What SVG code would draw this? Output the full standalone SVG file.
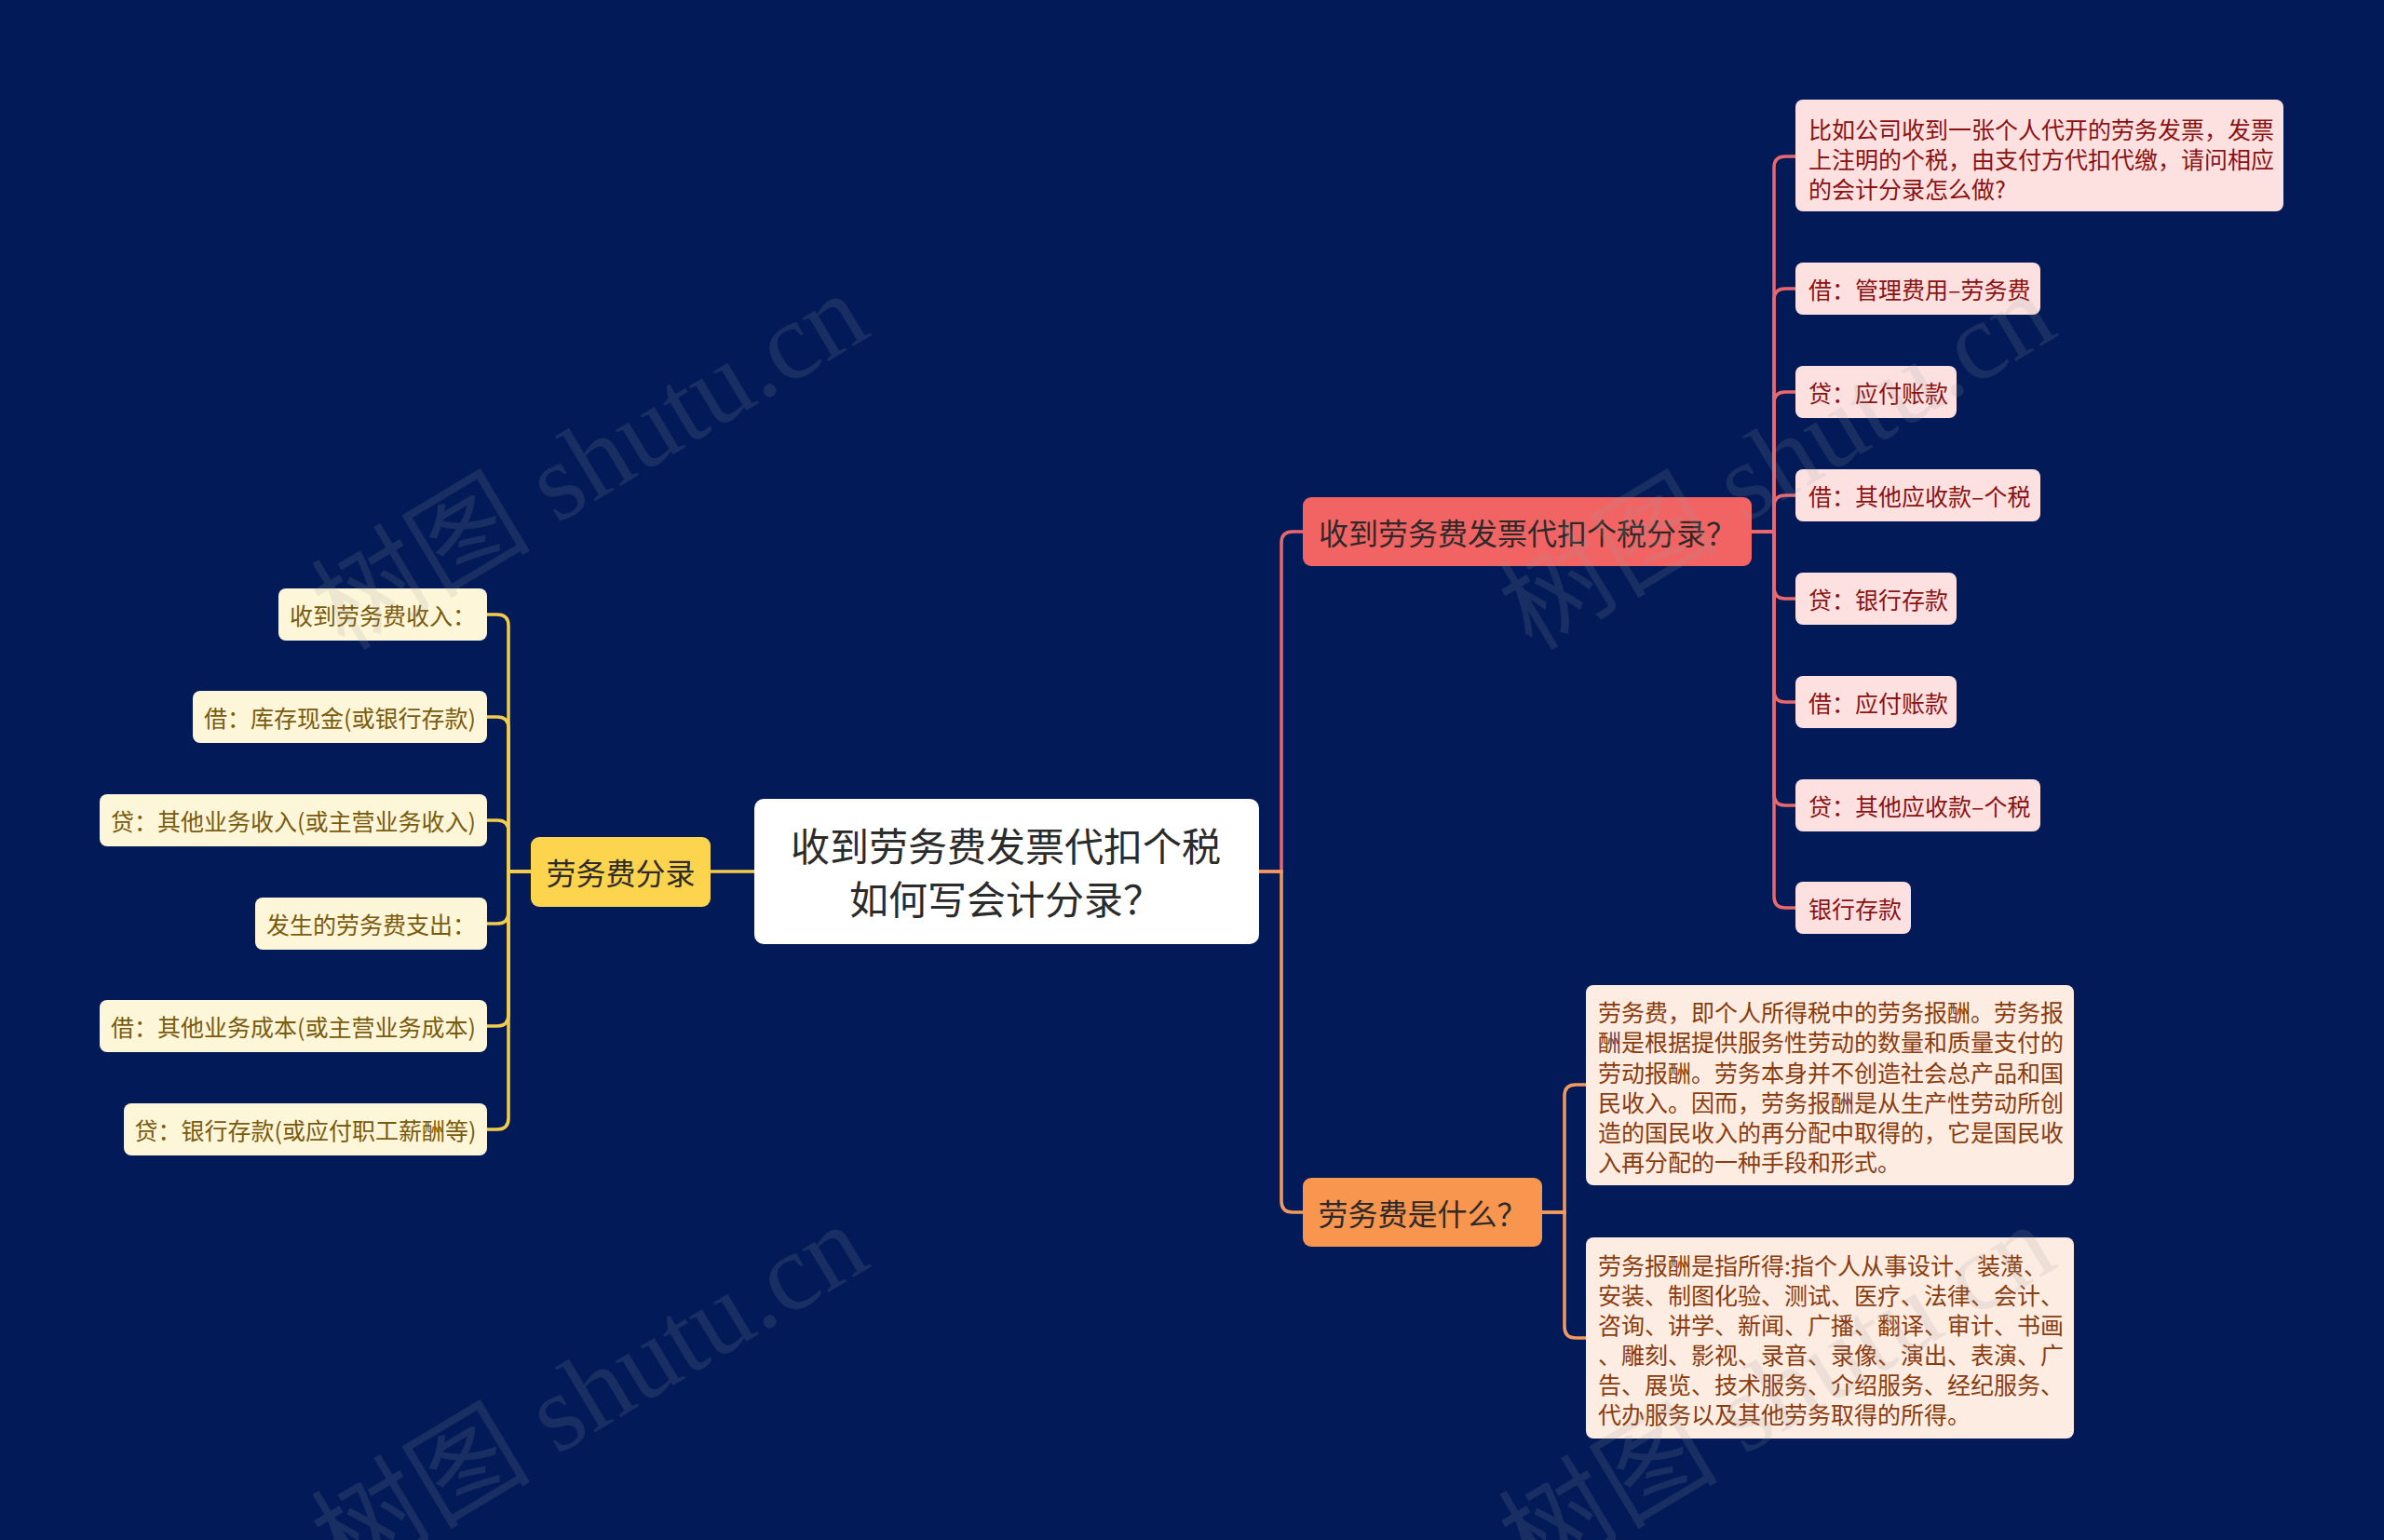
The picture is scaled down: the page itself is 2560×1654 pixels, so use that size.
<svg xmlns="http://www.w3.org/2000/svg" width="2560" height="1654" viewBox="0 0 2560 1654">
<style>
text{font-family:"Noto Sans CJK SC","Noto Sans",sans-serif;dominant-baseline:central}
.ln{fill:none;stroke-width:3.5;stroke-linecap:round}
.ly{stroke:#f2cd4b}.lr{stroke:#e9686e}.lo{stroke:#f39a5f}
.leafY rect{fill:#fdf6d9}.leafY text{fill:#7a5a0c;font-size:25px;text-anchor:middle}
.leafR rect{fill:#fde1e1}.leafR text{fill:#8c1212;font-size:25px}
.leafO rect{fill:#fdece2}.leafO text{fill:#8a3c0e;font-size:25px}
.l1 text{font-size:32px;fill:#2e2a2a;text-anchor:middle}
.wm{font-family:"Liberation Serif","Noto Sans CJK SC",serif;font-size:118px;fill:#9a9a9a;opacity:0.15;dominant-baseline:auto}
</style>
<rect width="2560" height="1654" fill="#021b58"/>
<g id="connectors">
<path class="ln ly" d="M570,936 H546 V672 Q546,660 534,660 H523"/>
<path class="ln ly" d="M570,936 H546 V782 Q546,770 534,770 H523"/>
<path class="ln ly" d="M570,936 H546 V893 Q546,881 534,881 H523"/>
<path class="ln ly" d="M570,936 H546 V980 Q546,992 534,992 H523"/>
<path class="ln ly" d="M570,936 H546 V1090 Q546,1102 534,1102 H523"/>
<path class="ln ly" d="M570,936 H546 V1201 Q546,1213 534,1213 H523"/>
<path class="ln ly" d="M763,936 H810"/>
<path class="ln lr" d="M1352,936 H1376 V583 Q1376,571 1388,571 H1399"/>
<path class="ln lo" d="M1352,936 H1376 V1290 Q1376,1302 1388,1302 H1399"/>
<path class="ln lr" d="M1881,571 H1905 V180 Q1905,168 1917,168 H1928"/>
<path class="ln lr" d="M1881,571 H1905 V322 Q1905,310 1917,310 H1928"/>
<path class="ln lr" d="M1881,571 H1905 V433 Q1905,421 1917,421 H1928"/>
<path class="ln lr" d="M1881,571 H1905 V544 Q1905,532 1917,532 H1928"/>
<path class="ln lr" d="M1881,571 H1905 V631 Q1905,643 1917,643 H1928"/>
<path class="ln lr" d="M1881,571 H1905 V742 Q1905,754 1917,754 H1928"/>
<path class="ln lr" d="M1881,571 H1905 V853 Q1905,865 1917,865 H1928"/>
<path class="ln lr" d="M1881,571 H1905 V963 Q1905,975 1917,975 H1928"/>
<path class="ln lo" d="M1656,1302 H1680 V1177 Q1680,1165 1692,1165 H1703"/>
<path class="ln lo" d="M1656,1302 H1680 V1425 Q1680,1437 1692,1437 H1703"/>
</g>
<g id="center"><rect x="810" y="858" width="542" height="156" rx="10" fill="#ffffff"/>
<text x="1080" y="906" font-size="42" fill="#2b2b2b" text-anchor="middle">收到劳务费发票代扣个税</text>
<text x="1080" y="963" font-size="42" fill="#2b2b2b" text-anchor="middle">如何写会计分录？</text></g>
<g id="n-fenlu" class="l1"><rect x="570" y="899" width="193" height="75" rx="9" fill="#fcd44e"/><text x="666.5" y="936">劳务费分录</text></g>
<g id="n-l1" class="leafY"><rect x="299" y="632" width="224" height="56" rx="8"/><text x="411" y="660">收到劳务费收入：</text></g>
<g id="n-l2" class="leafY"><rect x="207" y="742" width="316" height="56" rx="8"/><text x="365" y="770">借：库存现金(或银行存款)</text></g>
<g id="n-l3" class="leafY"><rect x="107" y="853" width="416" height="56" rx="8"/><text x="315" y="881">贷：其他业务收入(或主营业务收入)</text></g>
<g id="n-l4" class="leafY"><rect x="274" y="964" width="249" height="56" rx="8"/><text x="398.5" y="992">发生的劳务费支出：</text></g>
<g id="n-l5" class="leafY"><rect x="107" y="1074" width="416" height="56" rx="8"/><text x="315" y="1102">借：其他业务成本(或主营业务成本)</text></g>
<g id="n-l6" class="leafY"><rect x="133" y="1185" width="390" height="56" rx="8"/><text x="328" y="1213">贷：银行存款(或应付职工薪酬等)</text></g>
<g id="n-red" class="l1"><rect x="1399" y="534" width="482" height="74" rx="9" fill="#f26464"/><text x="1640" y="571">收到劳务费发票代扣个税分录？</text></g>
<g id="n-r1" class="leafR"><rect x="1928" y="107" width="524" height="120" rx="8"/>
<text x="1942" y="138">比如公司收到一张个人代开的劳务发票，发票</text>
<text x="1942" y="170">上注明的个税，由支付方代扣代缴，请问相应</text>
<text x="1942" y="202">的会计分录怎么做?</text></g>
<g id="n-r2" class="leafR"><rect x="1928" y="282" width="263" height="56" rx="8"/><text x="1942" y="310">借：管理费用–劳务费</text></g>
<g id="n-r3" class="leafR"><rect x="1928" y="393" width="173" height="56" rx="8"/><text x="1942" y="421">贷：应付账款</text></g>
<g id="n-r4" class="leafR"><rect x="1928" y="504" width="263" height="56" rx="8"/><text x="1942" y="532">借：其他应收款–个税</text></g>
<g id="n-r5" class="leafR"><rect x="1928" y="615" width="173" height="56" rx="8"/><text x="1942" y="643">贷：银行存款</text></g>
<g id="n-r6" class="leafR"><rect x="1928" y="726" width="173" height="56" rx="8"/><text x="1942" y="754">借：应付账款</text></g>
<g id="n-r7" class="leafR"><rect x="1928" y="837" width="263" height="56" rx="8"/><text x="1942" y="865">贷：其他应收款–个税</text></g>
<g id="n-r8" class="leafR"><rect x="1928" y="947" width="124" height="56" rx="8"/><text x="1942" y="975">银行存款</text></g>
<g id="n-orange" class="l1"><rect x="1399" y="1265" width="257" height="74" rx="9" fill="#f8954f"/><text x="1527.5" y="1302">劳务费是什么？</text></g>
<g id="n-o1" class="leafO"><rect x="1703" y="1058" width="524" height="215" rx="8"/>
<text x="1716" y="1086">劳务费，即个人所得税中的劳务报酬。劳务报</text>
<text x="1716" y="1118">酬是根据提供服务性劳动的数量和质量支付的</text>
<text x="1716" y="1151">劳动报酬。劳务本身并不创造社会总产品和国</text>
<text x="1716" y="1183">民收入。因而，劳务报酬是从生产性劳动所创</text>
<text x="1716" y="1215">造的国民收入的再分配中取得的，它是国民收</text>
<text x="1716" y="1247">入再分配的一种手段和形式。</text></g>
<g id="n-o2" class="leafO"><rect x="1703" y="1329" width="524" height="216" rx="8"/>
<text x="1716" y="1358">劳务报酬是指所得:指个人从事设计、装潢、</text>
<text x="1716" y="1390">安装、制图化验、测试、医疗、法律、会计、</text>
<text x="1716" y="1422">咨询、讲学、新闻、广播、翻译、审计、书画</text>
<text x="1716" y="1454">、雕刻、影视、录音、录像、演出、表演、广</text>
<text x="1716" y="1486">告、展览、技术服务、介绍服务、经纪服务、</text>
<text x="1716" y="1518">代办服务以及其他劳务取得的所得。</text></g>
<g id="watermark">
<text class="wm" transform="translate(370,700) rotate(-31)">树图 shutu.cn</text>
<text class="wm" transform="translate(370,1700) rotate(-31)">树图 shutu.cn</text>
<text class="wm" transform="translate(1645,700) rotate(-31)">树图 shutu.cn</text>
<text class="wm" transform="translate(1645,1700) rotate(-31)">树图 shutu.cn</text>
</g>
</svg>
